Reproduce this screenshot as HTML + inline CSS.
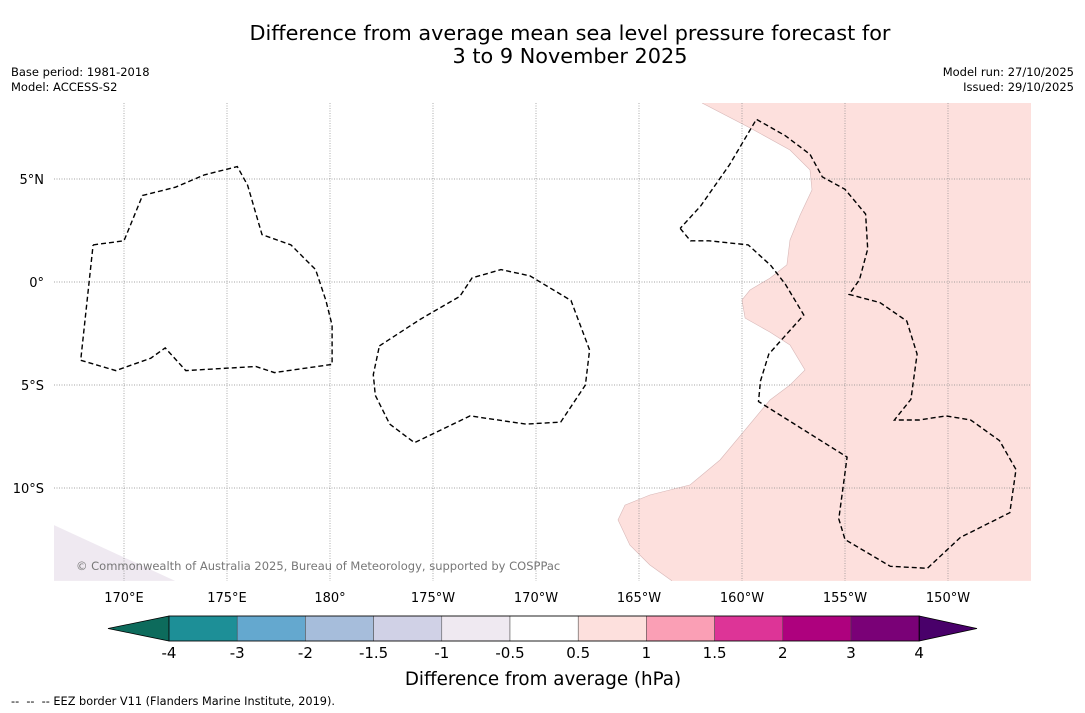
<!DOCTYPE html>
<html><head><meta charset="utf-8"><style>
body{margin:0;background:#fff;font-family:"Liberation Sans","DejaVu Sans",sans-serif}
#wrap{position:relative;width:1085px;height:713px;overflow:hidden}
.t{position:absolute;white-space:pre}
</style></head><body>
<div id="wrap">
<div class="t" style="left:0;width:1140px;top:22px;text-align:center;font-size:20.8px;line-height:23px;font-family:'DejaVu Sans',sans-serif">Difference from average mean sea level pressure forecast for
3 to 9 November 2025</div>
<div class="t" style="left:11px;top:65px;font-size:11.5px;line-height:15px;font-family:'DejaVu Sans',sans-serif">Base period: 1981-2018
Model: ACCESS-S2</div>
<div class="t" style="right:11px;top:65px;font-size:11.5px;line-height:15px;text-align:right;font-family:'DejaVu Sans',sans-serif">Model run: 27/10/2025
Issued: 29/10/2025</div>
<svg id="svg" width="1085" height="713" style="position:absolute;left:0;top:0" font-family="DejaVu Sans, sans-serif"></svg>
<div class="t" style="left:11px;top:695px;font-size:11.3px;font-family:'DejaVu Sans',sans-serif">--  --  -- EEZ border V11 (Flanders Marine Institute, 2019).</div>
</div>
<script>
const lonTicks=[170,175,180,185,190,195,200,205,210];
const lonLabels=["170°E","175°E","180°","175°W","170°W","165°W","160°W","155°W","150°W"];
const latTicks=[5,0,-5,-10];
const latLabels=["5°N","0°","5°S","10°S"];
const levels=["-4","-3","-2","-1.5","-1","-0.5","0.5","1","1.5","2","3","4"];
const boxColors=["#1d8f97","#64a8cf","#a6bddb","#d0d1e6","#efe9f1","#ffffff","#fde0dd","#fa9fb5","#dd3497","#ae017e","#7a0177"];
const lowColor="#0d6b5c", highColor="#49006a";
const pinkRegion=[[198.06,8.69],[200.39,7.48],[202.33,6.41],[203.3,5.44],[203.4,4.47],[202.82,3.25],[202.33,2.04],[202.18,0.83],[201.36,0.19],[200.39,-0.39],[200,-0.87],[200.15,-1.75],[201.36,-2.43],[202.33,-3.06],[203.06,-4.27],[202.33,-5],[201.36,-5.73],[200.15,-7.18],[198.93,-8.64],[197.48,-9.85],[195.53,-10.34],[194.32,-10.83],[193.98,-11.55],[194.56,-12.77],[195.53,-13.74],[196.6,-14.51],[214.03,-14.51],[214.03,8.69]];
const lavRegion=[[166.6,-11.8],[172.48,-14.51],[166.6,-14.51]];
const eezA=[[168.5,1.8],[170,2],[170.9,4.2],[172.5,4.6],[173.9,5.2],[175.5,5.6],[176,4.7],[176.7,2.3],[178.1,1.8],[179.3,0.6],[179.8,-0.9],[180.1,-2.1],[180.1,-4],[177.3,-4.4],[176.4,-4.1],[173,-4.3],[172,-3.2],[171.3,-3.7],[169.6,-4.3],[167.9,-3.8],[168.5,1.8]];
const eezB=[[182.4,-3.1],[184.4,-1.8],[186.3,-0.7],[186.9,0.2],[188.3,0.6],[189.7,0.3],[191.7,-0.9],[192.6,-3.3],[192.4,-5],[191.2,-6.8],[189.5,-6.9],[186.8,-6.5],[184.1,-7.8],[182.9,-6.9],[182.2,-5.5],[182.1,-4.5],[182.4,-3.1]];
const eezC=[[197,2.6],[197.5,2],[198.4,2],[200.3,1.8],[201.4,0.8],[202.1,-0.1],[203,-1.6],[202.1,-2.6],[201.3,-3.5],[200.9,-4.8],[200.8,-5.8],[205.1,-8.5],[204.7,-11.5],[205,-12.5],[207.2,-13.8],[209,-13.9],[210.6,-12.4],[213,-11.2],[213.3,-9.1],[212.5,-7.7],[211.1,-6.7],[209.9,-6.5],[208.6,-6.7],[207.4,-6.7],[208.2,-5.7],[208.5,-3.5],[208,-1.9],[206.7,-1],[205.2,-0.6],[205.7,0.1],[206.1,1.6],[206,3.3],[205,4.5],[203.9,5.1],[203.3,6.2],[202.1,7.1],[200.7,7.9],[199.4,5.7],[198,3.7],[197,2.6]];

const NS="http://www.w3.org/2000/svg";
const svg=document.getElementById('svg');
const L=54,R=1031,T=103,B=581;
const X=lon=>124+(lon-170)*20.6;
const Y=lat=>282-lat*20.6;
function mk(tag,attrs,parent){const e=document.createElementNS(NS,tag);for(const k in attrs)e.setAttribute(k,attrs[k]);(parent||svg).appendChild(e);return e;}
const defs=mk('defs',{});
const cp=mk('clipPath',{id:'cp'},defs);mk('rect',{x:L,y:T,width:R-L,height:B-T},cp);
const g=mk('g',{'clip-path':'url(#cp)'});

const pts=a=>a.map(p=>X(p[0]).toFixed(1)+','+Y(p[1]).toFixed(1)).join(' ');
let p=mk('polygon',{points:pts(pinkRegion),fill:'#fde0dd'},g);


p=mk('polyline',{points:pts(pinkRegion.slice(0,26)),fill:'none',stroke:'#d8b8b8','stroke-width':0.6},g);


p=mk('polygon',{points:pts(lavRegion),fill:'#efe9f1'},g);


lonTicks.forEach((v,i)=>{
 const l=mk('line',{x1:X(v),x2:X(v),y1:T,y2:B,stroke:'#888','stroke-width':0.7,'stroke-dasharray':'1,1.5'},g);
 
 
 const t=mk('text',{x:X(v),y:602,'text-anchor':'middle','font-size':13});t.textContent=lonLabels[i];
 
 
});
latTicks.forEach((v,i)=>{
 const l=mk('line',{x1:L,x2:R,y1:Y(v),y2:Y(v),stroke:'#888','stroke-width':0.7,'stroke-dasharray':'1,1.5'},g);
 
 
 const t=mk('text',{x:44,y:Y(v)+5,'text-anchor':'end','font-size':13});t.textContent=latLabels[i];
 
 
});
[eezA,eezB,eezC].forEach(a=>{
 const l=mk('polyline',{points:pts(a),fill:'none',stroke:'#000','stroke-width':1.4,'stroke-dasharray':'5,3'},g);
 
 
});
let c=mk('text',{x:76,y:570,'font-size':11.5,fill:'#777'},g);c.textContent='© Commonwealth of Australia 2025, Bureau of Meteorology, supported by COSPPac';


const cb0=169,cbw=68.2,cy0=616,cy1=641;
let tr=mk('polygon',{points:`108,${(cy0+cy1)/2} ${cb0},${cy0} ${cb0},${cy1}`,fill:lowColor,stroke:'#000','stroke-width':0.8});


boxColors.forEach((col,i)=>{
 const r=mk('rect',{x:cb0+i*cbw,y:cy0,width:cbw,height:cy1-cy0,fill:col,stroke:'#444','stroke-width':0.5});
 
 
});
const cbEnd=cb0+boxColors.length*cbw;
tr=mk('polygon',{points:`${cbEnd},${cy0} 977,${(cy0+cy1)/2} ${cbEnd},${cy1}`,fill:highColor,stroke:'#000','stroke-width':0.8});


mk('rect',{x:cb0,y:cy0,width:cbEnd-cb0,height:cy1-cy0,fill:'none',stroke:'#000','stroke-width':0.8});
levels.forEach((lv,i)=>{
 const t=mk('text',{x:cb0+i*cbw,y:658,'text-anchor':'middle','font-size':15});t.textContent=lv;
 
 
});
c=mk('text',{x:543,y:685,'text-anchor':'middle','font-size':18.3});c.textContent='Difference from average (hPa)';


</script>
</body></html>
